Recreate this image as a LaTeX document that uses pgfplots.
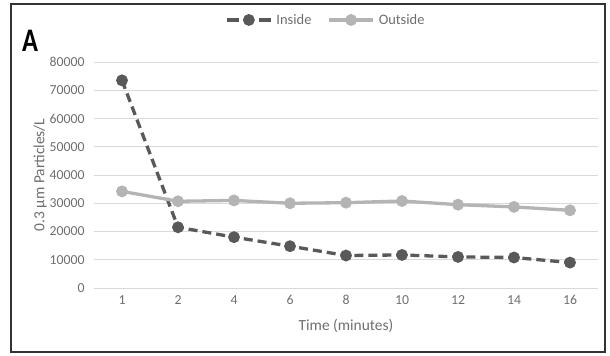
\documentclass[border=0pt]{standalone}
\usepackage{pgfplots}
\pgfplotsset{compat=1.18}
\usepackage{fontspec}
\setmainfont{Carlito}
\definecolor{insidec}{HTML}{595959}
\definecolor{outsidec}{HTML}{B4B4B4}
\definecolor{gridc}{HTML}{D9D9D9}
\definecolor{textc}{HTML}{6E6E6E}
\pgfplotsset{insidelegend/.style={
  legend image code/.code={
    \draw[##1, dash pattern=on 12bp off 20bp, mark repeat=2, mark phase=2] plot coordinates {(0bp,0bp) (22bp,0bp) (44bp,0bp)};
  }}}
\begin{document}
\begin{tikzpicture}[x=1bp,y=1bp]
\path[use as bounding box] (0,0) rectangle (610,355);
\draw[line width=1.4bp, black!80] (11,3) rectangle (605,351);
\node[font=\fontsize{33}{33}\selectfont\bfseries, anchor=center, xscale=0.8] at (30,314) {A};
\begin{axis}[
  at={(94bp,67bp)}, anchor=south west,
  scale only axis, width=504bp, height=226bp,
  xmin=-0.5, xmax=8.5, ymin=0, ymax=80000,
  xtick={0,...,8}, xticklabels={1,2,4,6,8,10,12,14,16},
  ytick={0,10000,...,80000},
  scaled y ticks=false,
  /pgf/number format/assume math mode=true,
  /pgf/number format/set thousands separator={},
  yticklabel style={/pgf/number format/fixed},
  axis line style={draw=none},
  major tick length=0pt,
  ymajorgrids, grid style={gridc, line width=1bp},
  ticklabel style={font=\fontsize{13.8}{13.8}\selectfont, text=textc},
  xticklabel style={yshift=-4bp},
  yticklabel style={xshift=-6bp},
  xlabel={Time (minutes)}, ylabel={0.3 µm Particles/L},
  label style={font=\fontsize{15.5}{15.5}\selectfont, text=textc},
  xlabel style={yshift=-7bp},
  ylabel style={yshift=-4bp},
  legend style={at={(0.46,1.186)}, anchor=center, draw=none, fill=none,
    legend columns=2, font=\fontsize{14.5}{14.5}\selectfont, text=textc,
    inner sep=0pt,
    /tikz/every odd column/.append style={column sep=2bp},
    /tikz/every even column/.append style={column sep=14bp}},
  legend image code/.code={
    \draw[#1, mark repeat=2, mark phase=2] plot coordinates {(0bp,0bp) (22bp,0bp) (44bp,0bp)};
  },
]
\addplot[insidec, line width=3.3bp, dash pattern=on 9bp off 5bp, mark=*, mark size=4.2bp, mark options={solid}, insidelegend]
  coordinates {(0,73500) (1,21500) (2,18000) (3,14800) (4,11500) (5,11700) (6,11000) (7,10800) (8,9000)};
\addlegendentry{Inside}
\addplot[outsidec, line width=3.3bp, mark=*, mark size=4.2bp]
  coordinates {(0,34200) (1,30700) (2,31000) (3,30000) (4,30200) (5,30800) (6,29500) (7,28700) (8,27500)};
\addlegendentry{Outside}
\end{axis}
\end{tikzpicture}
\end{document}
